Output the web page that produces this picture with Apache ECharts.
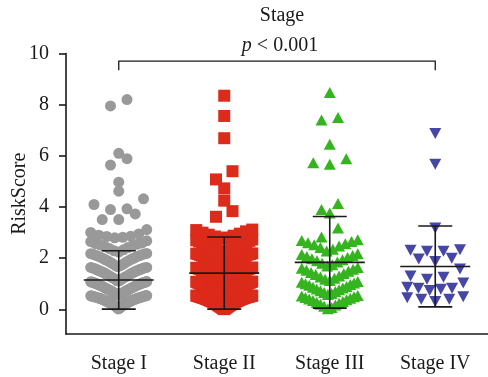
<!DOCTYPE html>
<html>
<head>
<meta charset="utf-8">
<script src="https://cdn.jsdelivr.net/npm/echarts@6/dist/echarts.min.js"></script>
<style>
  html, body { margin: 0; padding: 0; background: #fff; }
  #chart { width: 488px; height: 377px; }
</style>
</head>
<body>
<div id="chart"></div>
<script>
// Risk scores by tumour stage
const categories = ['Stage I', 'Stage II', 'Stage III', 'Stage IV'];

const stageI = [
  0.02,0.04,0.07,0.08,0.11,0.12,0.14,0.15,0.17,0.18,0.19,0.21,0.22,0.23,0.24,0.26,0.27,0.27,0.29,0.3,
  0.31,0.32,0.33,0.34,0.34,0.36,0.37,0.38,0.38,0.39,0.41,0.41,0.42,0.43,0.44,0.44,0.45,0.46,0.46,0.47,
  0.48,0.48,0.49,0.5,0.5,0.51,0.51,0.52,0.52,0.53,0.53,0.54,
  0.56,0.57,0.59,0.6,0.61,0.63,0.64,0.65,0.66,0.68,0.69,0.7,0.71,0.73,0.74,0.75,0.76,0.78,0.79,0.8,
  0.81,0.82,0.84,0.85,0.86,0.87,0.88,0.9,0.91,0.92,0.93,0.94,0.95,0.96,0.97,0.98,0.99,1.0,1.01,1.02,
  1.03,1.04,1.04,1.05,1.06,1.07,1.07,1.08,1.09,
  1.11,1.12,1.15,1.18,1.19,1.22,1.24,1.25,1.28,1.3,1.31,1.34,1.36,1.37,1.4,1.42,1.43,1.45,1.47,1.48,
  1.5,1.51,1.53,1.54,1.56,1.57,1.58,1.6,1.61,1.62,1.63,1.64,1.64,
  1.67,1.7,1.73,1.76,1.8,1.83,1.86,1.89,1.92,1.95,1.97,2.0,2.02,2.05,2.07,2.09,2.11,2.13,2.15,2.17,2.18,2.19,
  2.24,2.29,2.33,2.38,2.42,2.46,2.5,2.52,2.55,2.57,2.6,2.65,2.68,
  2.8,2.82,2.85,2.86,2.9,2.95,3.01,3.12,
  3.51,3.51,3.73,3.9,3.93,4.1,4.32,4.62,4.97,5.64,5.89,6.1,7.95,8.2
];

const stageII = [
  0.01,0.03,0.04,0.06,0.07,0.09,0.1,0.11,0.13,0.14,0.15,0.16,0.18,0.19,0.2,0.21,0.22,0.23,0.25,0.26,
  0.27,0.28,0.29,0.3,0.31,0.32,0.33,0.34,0.35,0.35,0.36,0.37,0.38,0.39,0.4,0.4,0.41,0.42,0.43,0.43,
  0.44,0.45,0.45,0.46,0.47,0.47,0.48,0.49,0.49,0.5,0.5,0.51,0.51,0.52,0.52,0.53,0.53,0.54,0.54,
  0.55,0.56,0.57,0.58,0.6,0.61,0.62,0.63,0.64,0.66,0.67,0.68,0.69,0.7,0.72,0.73,0.74,0.75,0.76,0.77,
  0.79,0.8,0.81,0.82,0.83,0.84,0.85,0.87,0.88,0.89,0.9,0.91,0.92,0.93,0.94,0.95,0.96,0.97,0.98,0.99,
  1.0,1.01,1.02,1.03,1.04,1.05,1.06,1.07,1.08,1.09,
  1.1,1.12,1.13,1.15,1.16,1.18,1.2,1.21,1.23,1.24,1.26,1.27,1.29,1.3,1.32,1.33,1.35,1.36,1.38,1.39,
  1.41,1.42,1.44,1.45,1.46,1.48,1.49,1.5,1.52,1.53,1.54,1.55,1.57,1.58,1.59,1.6,1.61,1.62,1.63,1.64,
  1.66,1.69,1.7,1.73,1.75,1.76,1.79,1.81,1.83,1.84,1.87,1.89,1.9,1.93,1.95,1.97,1.98,2.01,2.03,2.04,
  2.06,2.08,2.1,2.11,2.13,2.15,2.16,2.17,2.18,2.19,
  2.21,2.24,2.27,2.3,2.33,2.36,2.39,2.41,2.44,2.47,2.5,2.52,2.55,2.57,2.6,2.62,2.65,2.68,2.7,2.73,
  2.78,2.81,2.85,2.88,2.92,2.96,3.0,3.05,3.1,3.12,
  3.62,3.84,4.25,4.73,5.08,5.4,6.69,7.56,8.35
];

const stageIII = [
  0.03,0.08,0.12,0.17,0.2,0.24,0.28,0.31,0.35,0.38,0.41,0.44,0.47,0.5,0.52,0.54,
  0.58,0.62,0.66,0.7,0.73,0.77,0.8,0.84,0.87,0.9,0.94,0.97,1.0,1.03,1.06,1.09,
  1.13,1.18,1.22,1.27,1.31,1.36,1.4,1.44,1.49,1.53,1.57,1.61,1.64,
  1.7,1.75,1.8,1.85,1.9,1.94,1.98,2.03,2.07,2.11,2.15,2.18,
  2.28,2.35,2.42,2.48,2.53,2.57,2.61,2.65,2.69,2.72,
  2.83,3.18,3.77,3.9,4.14,5.67,5.73,5.89,6.45,7.4,7.5,8.48
];

const stageIV = [
  0.31,0.4,0.4,0.46,0.5,0.74,0.79,0.83,0.83,0.87,1.03,1.18,1.26,1.31,1.58,
  1.87,1.97,2.0,2.27,2.27,2.31,2.33,3.18,5.67,6.87
];

// mean and standard deviation of each group
const groupMean = [1.15, 1.42, 1.84, 1.68];
const groupSD = [1.14, 1.41, 1.79, 1.58];

const yTicks = [0, 2, 4, 6, 8, 10];
const pLabel = ' < 0.001';

const GRID = { left: 66, right: 0, top: 53.5, bottom: 43 };
const textColor = '#1a1a1a';
const serif = '"Liberation Serif", "DejaVu Serif", serif';

const chart = echarts.init(document.getElementById('chart'), null, { renderer: 'canvas' });
const bandPx = (chart.getWidth() - GRID.left - GRID.right) / categories.length;

// Column scatter: points are grouped in horizontal rows by value, then spread
// from the centre outward (lowest value in the middle), squeezed to a max width.
function columnScatter(values, catIdx) {
  const rowH = 0.55, maxW = 56, maxStep = 16.5;
  const rows = new Map();
  values.forEach(v => {
    const k = Math.floor(v / rowH);
    if (!rows.has(k)) rows.set(k, []);
    rows.get(k).push(v);
  });
  const pts = [];
  rows.forEach(row => {
    row.sort((a, b) => a - b);
    const n = row.length;
    const step = n > 1 ? Math.min(maxStep, maxW / (n - 1)) : 0;
    row.forEach((v, i) => {
      let slot;
      if (n % 2) {
        slot = i === 0 ? 0 : Math.ceil(i / 2) * (i % 2 ? -1 : 1);
      } else {
        slot = (Math.floor(i / 2) + 0.5) * (i % 2 ? 1 : -1);
      }
      pts.push([catIdx + slot * step / bandPx, v]);
    });
  });
  return pts;
}

const groups = [stageI, stageII, stageIII, stageIV];
const markers = [
  { symbol: 'circle', size: 11, color: '#999999', rotate: 0 },
  { symbol: 'rect', size: 12, color: '#dc2a1b', rotate: 0 },
  { symbol: 'triangle', size: [12, 11], color: '#35b41f', rotate: 0 },
  { symbol: 'triangle', size: [12, 11], color: '#4646a6', rotate: 180 }
];

const scatterSeries = groups.map((vals, gi) => ({
  type: 'scatter',
  xAxisIndex: 1,
  yAxisIndex: 0,
  symbol: markers[gi].symbol,
  symbolSize: markers[gi].size,
  symbolRotate: markers[gi].rotate,
  itemStyle: { color: markers[gi].color, opacity: 1 },
  silent: true,
  z: 2,
  data: columnScatter(vals, gi)
}));

// Mean line with ±SD whiskers
const errorSeries = {
  type: 'custom',
  xAxisIndex: 1,
  yAxisIndex: 0,
  silent: true,
  z: 5,
  data: groupMean.map((m, i) => [i, m, groupSD[i]]),
  renderItem: function (params, api) {
    const x = api.value(0), m = api.value(1), sd = api.value(2);
    const c = api.coord([x, m]);
    const hi = api.coord([x, m + sd]);
    const lo = api.coord([x, m - sd]);
    const style = { stroke: '#1a1a1a', lineWidth: 1.6 };
    const meanHalf = 35, capHalf = 17;
    return {
      type: 'group',
      children: [
        { type: 'line', shape: { x1: c[0] - meanHalf, y1: c[1], x2: c[0] + meanHalf, y2: c[1] }, style },
        { type: 'line', shape: { x1: c[0], y1: hi[1], x2: c[0], y2: lo[1] }, style },
        { type: 'line', shape: { x1: c[0] - capHalf, y1: hi[1], x2: c[0] + capHalf, y2: hi[1] }, style },
        { type: 'line', shape: { x1: c[0] - capHalf, y1: lo[1], x2: c[0] + capHalf, y2: lo[1] }, style }
      ]
    };
  }
};

// Significance bracket from Stage I to Stage IV
const bracketSeries = {
  type: 'custom',
  xAxisIndex: 1,
  yAxisIndex: 0,
  silent: true,
  clip: false,
  z: 5,
  data: [[0, 3, 9.7, 9.35]],
  renderItem: function (params, api) {
    const a = api.coord([api.value(0), api.value(2)]);
    const b = api.coord([api.value(1), api.value(2)]);
    const foot = api.coord([api.value(0), api.value(3)]);
    return {
      type: 'polyline',
      shape: { points: [[a[0], foot[1]], a, b, [b[0], foot[1]]] },
      style: { stroke: '#1a1a1a', lineWidth: 1.3, fill: null }
    };
  }
};

const option = {
  backgroundColor: '#ffffff',
  animation: false,
  title: [
    {
      text: 'Stage',
      left: 277, top: 1,
      textAlign: 'center',
      textStyle: { fontFamily: serif, fontSize: 20, fontWeight: 'normal', color: textColor }
    },
    {
      text: '{i|p}' + pLabel,
      left: 275, top: 31,
      textAlign: 'center',
      textStyle: {
        fontFamily: serif, fontSize: 20, fontWeight: 'normal', color: textColor,
        rich: { i: { fontFamily: serif, fontSize: 20, fontStyle: 'italic', color: textColor } }
      }
    }
  ],
  grid: {
    left: GRID.left, right: GRID.right, top: GRID.top, bottom: GRID.bottom,
    containLabel: false, outerBoundsMode: 'none'
  },
  xAxis: [
    {
      type: 'category',
      data: categories,
      boundaryGap: true,
      axisLine: { onZero: false, lineStyle: { color: textColor, width: 1.6 } },
      axisTick: { alignWithLabel: true, length: 7, lineStyle: { color: textColor, width: 1.6 } },
      axisLabel: { fontFamily: serif, fontSize: 20, color: textColor, margin: 20 },
      splitLine: { show: false }
    },
    {
      type: 'value',
      min: -0.5, max: 3.5,
      show: false
    }
  ],
  yAxis: {
    type: 'value',
    min: -0.96, max: 10,
    name: 'RiskScore',
    nameLocation: 'middle',
    nameGap: 36,
    nameMoveOverlap: false,
    nameTextStyle: { fontFamily: serif, fontSize: 20, color: textColor },
    axisLine: { show: true, onZero: false, lineStyle: { color: textColor, width: 1.6 } },
    axisTick: { show: true, length: 7, customValues: yTicks, lineStyle: { color: textColor, width: 1.6 } },
    axisLabel: { fontFamily: serif, fontSize: 20, color: textColor, margin: 17, customValues: yTicks },
    splitLine: { show: false }
  },
  series: [...scatterSeries, errorSeries, bracketSeries]
};

chart.setOption(option);
</script>
</body>
</html>
